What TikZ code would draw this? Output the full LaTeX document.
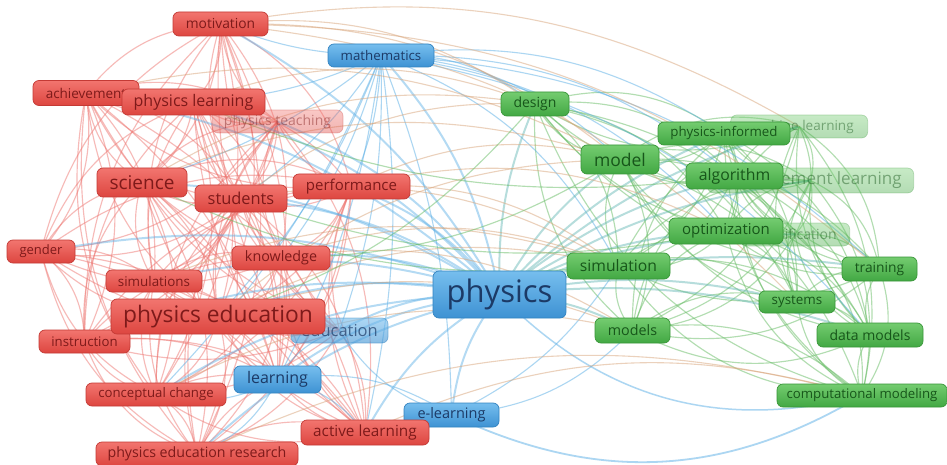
\documentclass[tikz,border=0pt]{standalone}
\usepackage{fontspec}
\setmainfont{Open Sans}
\pgfdeclarelayer{edges}
\pgfdeclarelayer{paper}
\pgfsetlayers{paper,edges,main}

\definecolor{rfillT}{HTML}{F2756F}
\definecolor{rfillB}{HTML}{DD4640}
\definecolor{rline}{HTML}{C43A35}
\definecolor{rtext}{HTML}{7E1A1A}
\definecolor{bfillT}{HTML}{76BEEE}
\definecolor{bfillB}{HTML}{3E92D3}
\definecolor{bline}{HTML}{3383C0}
\definecolor{btext}{HTML}{1C3A66}
\definecolor{gfillT}{HTML}{74CC70}
\definecolor{gfillB}{HTML}{42A843}
\definecolor{gline}{HTML}{389638}
\definecolor{gtext}{HTML}{17561A}
\definecolor{redge}{HTML}{EE7772}
\definecolor{bedge}{HTML}{5AAFE6}
\definecolor{gedge}{HTML}{66BC64}
\definecolor{tedge}{HTML}{D9A57A}

\newcommand\fz[1]{\fontsize{#1}{#1}\selectfont}

\tikzset{
  kw/.style={rounded corners=6pt, inner sep=0pt, line width=0.7pt},
  rk/.style={kw, draw=rline, top color=rfillT, bottom color=rfillB, text=rtext},
  bk/.style={kw, draw=bline, top color=bfillT, bottom color=bfillB, text=btext},
  gk/.style={kw, draw=gline, top color=gfillT, bottom color=gfillB, text=gtext},
  faint/.style={fill opacity=0.4, draw opacity=0.3, text opacity=0.45},
  sz/.style n args={3}{minimum width=#1pt, minimum height=#2pt, font={\fz{#3}}},
  tail/.style n args={2}{anchor=east, inner xsep=#1pt, minimum height=#2pt},
  re/.style={draw=redge, line width=1.15pt, opacity=0.5},
  be/.style={draw=bedge, line width=1.1pt, opacity=0.5},
  ge/.style={draw=gedge, line width=1.15pt, opacity=0.5},
  te/.style={draw=tedge, line width=1.1pt, opacity=0.5},
  pe/.style={draw=bedge, line width=2pt, opacity=0.45},
}

\begin{document}
\begin{tikzpicture}[x=1pt, y=-1pt]
\useasboundingbox (0,0) rectangle (947,465);
\clip (0,0) rectangle (947,465);
\begin{pgfonlayer}{paper}
  \fill[white] (0,0) rectangle (947,465);
\end{pgfonlayer}

% faded keywords (drawn first, partly hidden by the others)
\node[rk, faint, sz={131}{23}{14}] (pteach) at (277.5,121.5) {physics teaching};
\node[bk, fill opacity=0.6, draw opacity=0.5, text opacity=0.7, sz={97}{25}{16.5}] (edu) at (339.5,330.5) {education};
\node[gk, faint, tail={14}{23}, font={\fz{13.5}}] (deepl) at (868,126.5) {machine learning};
\node[gk, faint, tail={12}{25}, font={\fz{17}}] (reinf) at (914,180.5) {reinforcement learning};
\node[gk, faint, tail={13}{23}, font={\fz{14}}] (classif) at (850,234.5) {classification};

% red cluster
\node[rk, sz={95}{24}{13.8}] (mot) at (220.5,24) {motivation};
\node[rk, sz={106}{25}{13.5}] (ach) at (86,93) {achievement};
\node[rk, sz={143}{26}{16}] (plearn) at (193.5,102) {physics learning};
\node[rk, sz={90}{29}{19}] (sci) at (142,182.5) {science};
\node[rk, sz={92}{27}{16.4}] (stu) at (241,198.5) {students};
\node[rk, sz={117}{25}{15}] (perf) at (351.5,186.5) {performance};
\node[rk, sz={68}{23}{13}] (gen) at (41,251.5) {gender};
\node[rk, sz={98}{24}{14.3}] (know) at (281,258) {knowledge};
\node[rk, sz={96}{22}{13.4}] (sims) at (154,281) {simulations};
\node[rk, sz={91}{23}{13.2}] (instr) at (84.5,341.5) {instruction};
\node[rk, sz={214}{35}{22.8}] (pedu) at (218,316.5) {physics education};
\node[rk, sz={140}{23}{13.2}] (concept) at (156,394.5) {conceptual change};
\node[rk, sz={202}{24}{14.2}] (per) at (197,454) {physics education research};

% blue cluster
\node[bk, sz={106}{23}{13.3}] (math) at (381,55.5) {mathematics};
\node[bk, sz={87}{27}{16}] (learn) at (277.5,379.5) {learning};
\node[bk, sz={95}{24}{14.5}] (elearn) at (451.5,415) {e-learning};
\node[rk, sz={128}{25}{15.3}] (active) at (365,432.5) {active learning};
\node[bk, sz={133}{47}{31}] (phys) at (499.5,294.5) {physics};

% green cluster
\node[gk, sz={68}{24}{14}] (design) at (535,104) {design};
\node[gk, sz={78}{29}{17.5}] (model) at (620,159.5) {model};
\node[gk, sz={132}{23}{13.3}] (pinf) at (724,133.5) {physics-informed};
\node[gk, sz={97}{26}{15.8}] (algo) at (734.5,176) {algorithm};
\node[gk, sz={114}{26}{15}] (opt) at (726,231) {optimization};
\node[gk, sz={103}{26}{15.7}] (sim) at (618.5,266) {simulation};
\node[gk, sz={75}{24}{13.8}] (train) at (879.5,269) {training};
\node[gk, sz={76}{22}{13.4}] (sys) at (797,302) {systems};
\node[gk, sz={75}{25}{14.3}] (models) at (632.5,330.5) {models};
\node[gk, sz={106}{24}{14}] (data) at (870,335) {data models};
\node[gk, sz={170}{23}{13.2}] (comp) at (862,395.5) {computational modeling};

\begin{pgfonlayer}{edges}
  % links inside the red cluster
  \foreach \a [count=\i] in {mot,ach,plearn,pteach,sci,stu,perf,gen,know,sims,pedu,instr,concept,active,per}{
    \foreach \b [count=\j] in {mot,ach,plearn,pteach,sci,stu,perf,gen,know,sims,pedu,instr,concept,active,per}{
      \ifnum\j>\i
        \pgfmathsetmacro\ang{mod(\i+\j,2)==0 ? 24 : -24}
        \draw[re] (\a.center) to[bend left=\ang] (\b.center);
      \fi
    }
  }
  % links inside the green cluster
  \foreach \a [count=\i] in {design,model,pinf,deepl,algo,reinf,opt,classif,sim,train,sys,models,data,comp}{
    \foreach \b [count=\j] in {design,model,pinf,deepl,algo,reinf,opt,classif,sim,train,sys,models,data,comp}{
      \ifnum\j>\i
        \pgfmathsetmacro\ang{mod(\i+\j,2)==0 ? 26 : -26}
        \draw[ge] (\a.center) to[bend left=\ang] (\b.center);
      \fi
    }
  }
  % red keywords to the blue ones
  \foreach \a in {mot,ach,plearn,sci,stu,perf,gen,know,sims,pedu,instr,concept,active,per}{
    \draw[re] (\a.center) to[bend left=18] (learn.center);
    \draw[re] (\a.center) to[bend right=18] (edu.center);
  }
  % mathematics links
  \foreach \a in {learn,edu,elearn,pedu,sci,stu,perf,know,plearn,mot,active,concept}{
    \draw[be] (math.center) to[bend left=10] (\a.center);
  }
  \foreach \a in {design,model,sim,opt,algo,pinf,train,data}{
    \draw[be] (math.center) to[bend left=20] (\a.center);
  }
  % learning and e-learning links
  \foreach \a/\b in {learn/edu,learn/elearn,learn/active,learn/per,learn/concept,elearn/edu,elearn/active}{
    \draw[be] (\a.center) to[bend left=20] (\b.center);
  }
  \draw[be, line width=1.8pt] (elearn.center) to[bend right=28] (comp.center);
  \draw[be, line width=1.5pt] (phys.center) to[bend right=30] (comp.center);
  \draw[be] (elearn.center) to[bend right=20] (models.center);
  \draw[be] (elearn.center) to[bend right=15] (sim.center);
  % physics links to everything
  \foreach \a in {mot,ach,plearn,pteach,sci,stu,perf,gen,know,sims,pedu,instr,concept,active,per,math,edu,learn,elearn}{
    \draw[pe] (phys.center) to[bend right=15] (\a.center);
  }
  \foreach \a in {design,model,pinf,deepl,algo,reinf,opt,classif,sim,train,sys,models,data}{
    \draw[pe, draw=bedge!60!gedge] (phys.center) to[bend left=12] (\a.center);
  }
  % links across the red and green clusters
  \foreach \a/\b in {mot/design,mot/model,mot/train,mot/sys,mot/deepl,pedu/sim,pedu/model,pedu/models,
                     sci/model,sci/design,stu/sim,perf/model,perf/sim,know/sim,active/comp,plearn/design,
                     ach/model,sims/sim,concept/models,per/comp,perf/opt,stu/design,know/models}{
    \draw[te] (\a.center) to[bend left=20] (\b.center);
  }
  \foreach \a/\b in {design/pedu,model/know,sim/sci,opt/stu,algo/plearn}{
    \draw[ge] (\a.center) to[bend left=15] (\b.center);
  }
\end{pgfonlayer}
\end{tikzpicture}
\end{document}
